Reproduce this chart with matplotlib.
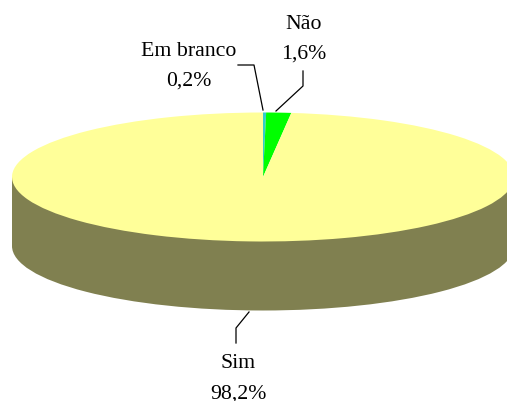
import matplotlib
matplotlib.use("Agg")
import matplotlib.pyplot as plt
from matplotlib.patches import Ellipse, Rectangle

categories = ["Em branco", "Não", "Sim"]
values = [0.2, 1.6, 98.2]
value_labels = ["0,2%", "1,6%", "98,2%"]
colors = ["#33CCCC", "#00FF00", "#FFFF99"]
side_color = "#808050"

W, H = 507, 402
cx, cy, rx, ry, depth = 263, 178, 251, 64.5, 69

plt.rcParams["font.family"] = "Liberation Serif"
fig = plt.figure(figsize=(W / 100, H / 100), dpi=100, facecolor="white")
ax = fig.add_axes([0, 0, 1, 1])

d = depth / ry
ax.add_patch(Ellipse((0, -d), 2, 2, fc=side_color, ec="none", zorder=1))
ax.add_patch(Rectangle((-1, -d), 2, d, fc=side_color, ec="none", zorder=1))
ax.pie(values, colors=colors, startangle=90, counterclock=False, radius=1,
       wedgeprops=dict(linewidth=0, zorder=2))
ax.set_aspect("auto")
ax.set_xlim(-cx / rx, (W - cx) / rx)
ax.set_ylim((cy - H) / ry, cy / ry)
ax.axis("off")


def P(x, y):
    return (x - cx) / rx, (cy - y) / ry


leaders = [
    [(238, 66), (254, 66), (263, 111)],
    [(303, 72), (303, 87), (276, 112)],
    [(249, 313), (236, 329), (236, 344)],
]
for pts in leaders:
    xy = [P(*p) for p in pts]
    ax.plot([p[0] for p in xy], [p[1] for p in xy], color="black", lw=0.9, zorder=3)

positions = [(188.5, 52, 81), (303.5, 24, 54), (238, 364, 394)]
for name, val, (x, y1, y2) in zip(categories, value_labels, positions):
    ax.text(*P(x, y1), name, ha="center", va="center", fontsize=15.7, color="black")
    ax.text(*P(x, y2), val, ha="center", va="center", fontsize=15.7, color="black")

fig.savefig("out.png", dpi=100, facecolor="white")
